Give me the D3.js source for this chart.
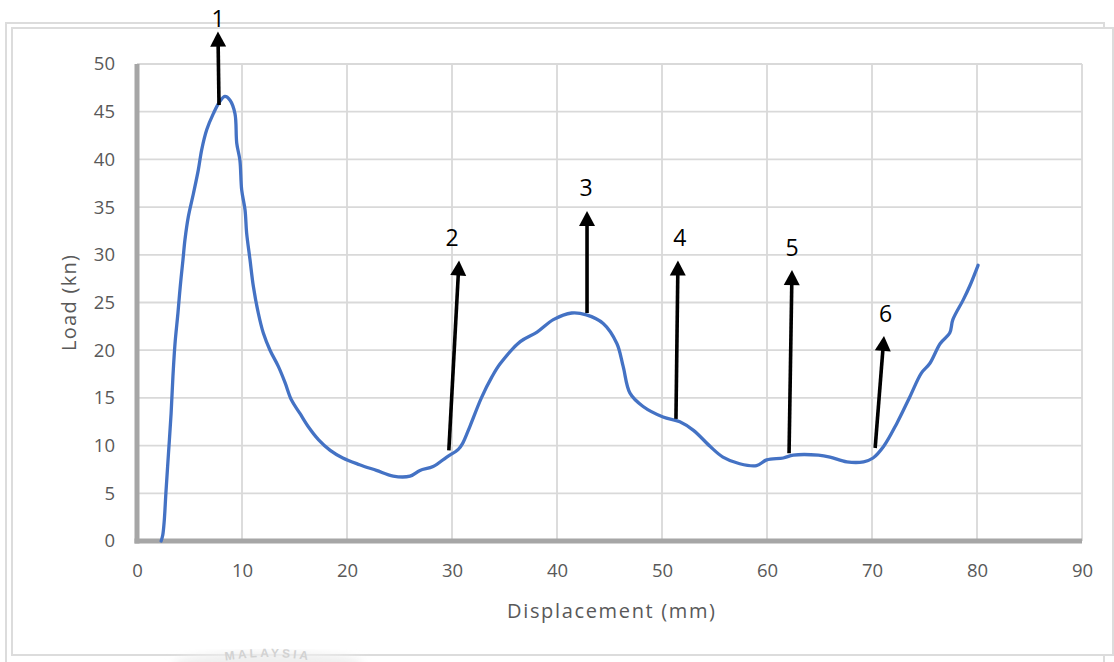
<!DOCTYPE html>
<html>
<head>
<meta charset="utf-8">
<script src="https://cdn.jsdelivr.net/npm/d3@7"></script>
<style>
  html, body { margin: 0; padding: 0; background: #ffffff; }
  svg { display: block; }
</style>
</head>
<body>
<svg id="chart" width="1114" height="662"></svg>
<script>
// Load–displacement record of the crush test
const displacement = [2.3, 2.45, 2.6, 2.75, 3.0, 3.25, 3.42, 3.62, 3.9, 4.12, 4.38, 4.57, 4.89, 5.37, 5.84, 6.16, 6.64, 7.27, 7.9, 8.38, 8.86, 9.33, 9.5, 9.8, 9.97, 10.29, 10.44, 10.76, 11.08, 11.55, 12.03, 12.67, 13.46, 14.1, 14.7, 15.5, 16.3, 17.3, 18.4, 19.6, 21.2, 22.8, 24.4, 26.0, 26.95, 28.2, 29.5, 30.6, 31.0, 31.7, 32.8, 33.8, 34.6, 36.5, 38.1, 39.65, 41.4, 42.8, 44.4, 45.7, 46.3, 46.95, 48.2, 50.1, 51.7, 53.0, 54.6, 55.8, 57.4, 59.0, 59.97, 61.55, 62.5, 64.9, 66.0, 67.6, 69.2, 70.1, 71.1, 72.35, 73.6, 74.7, 75.5, 76.5, 77.4, 77.7, 78.7, 79.3, 80.1];
const load = [0, 0.6, 2.2, 5.0, 9.2, 13.4, 17.2, 20.7, 23.9, 26.7, 29.5, 31.6, 34.0, 36.4, 38.9, 41.0, 43.1, 44.8, 46.1, 46.6, 46.2, 44.8, 41.7, 39.9, 36.8, 34.7, 32.3, 29.5, 26.7, 23.9, 21.8, 20.0, 18.3, 16.6, 14.8, 13.4, 12.0, 10.6, 9.5, 8.7, 8.0, 7.4, 6.8, 6.8, 7.4, 7.8, 8.8, 9.6, 10.2, 12.0, 15.0, 17.2, 18.6, 20.9, 21.9, 23.2, 23.9, 23.7, 22.8, 20.7, 18.3, 15.5, 14.1, 13.0, 12.5, 11.6, 9.9, 8.8, 8.1, 7.9, 8.5, 8.7, 9.0, 9.0, 8.8, 8.3, 8.3, 8.7, 9.9, 12.3, 15.1, 17.6, 18.6, 20.7, 21.8, 23.2, 25.3, 26.7, 28.9];

// Axis ticks
const xTicks = [0, 10, 20, 30, 40, 50, 60, 70, 80, 90];
const yTicks = [0, 5, 10, 15, 20, 25, 30, 35, 40, 45, 50];
const xTickLabels = ["0", "10", "20", "30", "40", "50", "60", "70", "80", "90"];
const yTickLabels = ["0", "5", "10", "15", "20", "25", "30", "35", "40", "45", "50"];

// Numbered pointers (data units): tail on the curve, tip above, label above the tip
const markerLabels = ["1", "2", "3", "4", "5", "6"];
const markerTailX = [7.81, 29.7, 42.86, 51.33, 62.1, 70.3];
const markerTailY = [45.7, 9.5, 23.9, 12.8, 9.2, 9.75];
const markerTipX  = [7.71, 30.67, 42.86, 51.52, 62.38, 71.14];
const markerTipY  = [53.4, 29.4, 34.6, 29.4, 28.4, 21.5];
const markerTextX = [7.71, 30.0, 42.76, 51.7, 62.38, 71.3];
const markerTextY = [54.8, 31.9, 37.1, 31.9, 30.8, 23.9];

const svg = d3.select("#chart");
const plotLeft = 137, plotRight = 1082, plotTop = 64, plotBottom = 541;

const x = d3.scaleLinear().domain([0, 90]).range([plotLeft, plotRight]);
const y = d3.scaleLinear().domain([0, 50]).range([plotBottom, plotTop]);

// Chart frame (two offset light rectangles)
svg.append("path")
  .attr("d", `M6,662 L6,23 L1104,23 L1104,662`)
  .attr("fill", "none").attr("stroke", "#dcdcdc").attr("stroke-width", 2);
svg.append("rect")
  .attr("x", 12).attr("y", 28).attr("width", 1101).attr("height", 627)
  .attr("fill", "#ffffff").attr("stroke", "#dcdcdc").attr("stroke-width", 2);

// Faint emblem text near the bottom edge
const defs = svg.append("defs");
defs.append("filter").attr("id", "soft")
  .append("feGaussianBlur").attr("stdDeviation", 4);
svg.append("ellipse")
  .attr("cx", 268).attr("cy", 664).attr("rx", 95).attr("ry", 12)
  .attr("fill", "#efefef").attr("filter", "url(#soft)");
defs.append("path").attr("id", "emblemArc")
  .attr("d", "M200,666 Q268,648 336,666");
svg.append("text")
  .attr("font-family", "Liberation Sans, Arial, sans-serif")
  .attr("font-size", 12).attr("font-weight", "bold")
  .attr("fill", "#d2d2d2").attr("letter-spacing", 3)
  .append("textPath").attr("href", "#emblemArc")
  .attr("startOffset", "50%").attr("text-anchor", "middle")
  .text("MALAYSIA");

// Gridlines
const grid = svg.append("g").attr("stroke", "#d9d9d9").attr("stroke-width", 1.8);
grid.selectAll("line.v").data(xTicks.filter(d => d > 0)).join("line")
  .attr("class", "v")
  .attr("x1", d => x(d)).attr("x2", d => x(d))
  .attr("y1", y(0)).attr("y2", y(50));
grid.selectAll("line.h").data(yTicks.filter(d => d > 0)).join("line")
  .attr("class", "h")
  .attr("x1", x(0)).attr("x2", x(90))
  .attr("y1", d => y(d)).attr("y2", d => y(d));

// Axes built with d3-axis, then styled
const tickFont = "'Open Sans', 'Noto Sans', sans-serif";
const xAxis = svg.append("g")
  .attr("transform", `translate(0,${y(0)})`)
  .call(d3.axisBottom(x).tickValues(xTicks).tickFormat((d, i) => xTickLabels[i]).tickSize(0).tickPadding(23));
const yAxis = svg.append("g")
  .attr("transform", `translate(${x(0)},0)`)
  .call(d3.axisLeft(y).tickValues(yTicks).tickFormat((d, i) => yTickLabels[i]).tickSize(0).tickPadding(22));
[xAxis, yAxis].forEach(g => {
  g.select(".domain").attr("stroke", "#a6a6a6").attr("stroke-width", 5);
  g.selectAll("text").attr("font-family", tickFont).attr("font-size", 18.5).attr("fill", "#595959");
});
xAxis.select(".domain").attr("d", `M${x(0) - 2.5},0H${x(90)}`);
yAxis.select(".domain").attr("d", `M0,${y(0) + 2.5}V${y(50)}`);

// Axis titles
svg.append("text")
  .attr("x", 611).attr("y", 618)
  .attr("text-anchor", "middle")
  .attr("font-family", tickFont).attr("font-size", 20).attr("fill", "#595959")
  .attr("textLength", 208).attr("lengthAdjust", "spacing")
  .text("Displacement (mm)");
svg.append("text")
  .attr("transform", "translate(76,303) rotate(-90)")
  .attr("text-anchor", "middle")
  .attr("font-family", tickFont).attr("font-size", 20).attr("fill", "#595959")
  .attr("textLength", 96).attr("lengthAdjust", "spacing")
  .text("Load (kn)");

// Load curve
const points = displacement.map((d, i) => [d, load[i]]);
svg.append("path")
  .datum(points)
  .attr("fill", "none")
  .attr("stroke", "#4472c4")
  .attr("stroke-width", 3.3)
  .attr("stroke-linejoin", "round")
  .attr("stroke-linecap", "round")
  .attr("d", d3.line().x(d => x(d[0])).y(d => y(d[1])).curve(d3.curveCatmullRom.alpha(0.5)));

// Pointers with numbered labels
const headLen = 15, headHalf = 8;
const markers = svg.append("g");
markerLabels.forEach((lab, i) => {
  const x0 = x(markerTailX[i]), y0 = y(markerTailY[i]);
  const x1 = x(markerTipX[i]), y1 = y(markerTipY[i]);
  const dx = x1 - x0, dy = y1 - y0, len = Math.hypot(dx, dy);
  const ux = dx / len, uy = dy / len;
  const bx = x1 - ux * headLen, by = y1 - uy * headLen;
  markers.append("line")
    .attr("x1", x0).attr("y1", y0).attr("x2", bx + ux * 2).attr("y2", by + uy * 2)
    .attr("stroke", "#000").attr("stroke-width", 3.6);
  markers.append("path")
    .attr("d", `M${x1},${y1} L${bx - uy * headHalf},${by + ux * headHalf} L${bx + uy * headHalf},${by - ux * headHalf} Z`)
    .attr("fill", "#000");
  markers.append("text")
    .attr("x", x(markerTextX[i])).attr("y", y(markerTextY[i]))
    .attr("text-anchor", "middle").attr("dominant-baseline", "central")
    .attr("font-family", tickFont).attr("font-size", 23).attr("fill", "#000")
    .text(lab);
});
</script>
</body>
</html>
